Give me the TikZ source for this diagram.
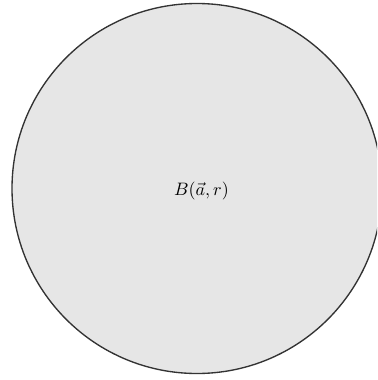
\documentclass[tikz,border=0pt]{standalone}
\begin{document}
\begin{tikzpicture}[x=0.6667pt,y=-0.6667pt]
\definecolor{ballfill}{HTML}{E6E6E6}
\definecolor{ballline}{HTML}{333333}
\tikzset{ball/.style={fill=ballfill,draw=ballline,line width=0.9pt}}
\useasboundingbox (0,0) rectangle (377,380);
\begin{scope}
\clip (0,0) rectangle (377,380);
\draw[ball] (197,188.5) circle[radius=185];
\end{scope}
\node[inner sep=0pt,scale=1.2] (lbl) at (201.5,190.5) {$B(\vec{a},r)$};
\end{tikzpicture}
\end{document}
